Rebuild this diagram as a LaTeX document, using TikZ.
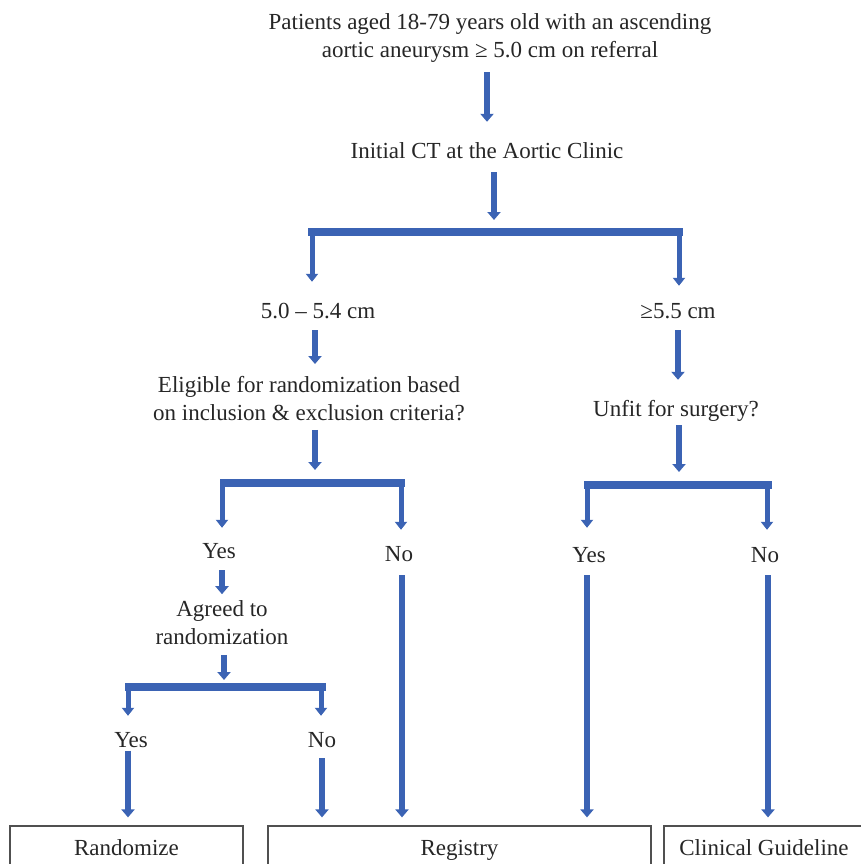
\documentclass[tikz,border=0pt]{standalone}
\usepackage{fontspec}
\setmainfont{Liberation Serif}
\usetikzlibrary{arrows.meta}
\definecolor{arrblue}{RGB}{59,99,180}
\definecolor{boxgray}{RGB}{80,80,80}
\begin{document}
\begin{tikzpicture}[x=1pt,y=-1pt,
  txt/.style={inner sep=0pt, font=\fontsize{23}{28}\selectfont, text=black!85},
  one/.style={txt, text height=18.5pt, text depth=2.5pt},
  two/.style={txt, align=center},
  arr/.style={draw=arrblue, line width=5.5pt, -{Triangle[width=13pt,length=8pt]}},
  leg/.style={draw=arrblue, line width=5pt, -{Triangle[width=12pt,length=8pt]}},
  bar/.style={draw=arrblue, line width=8pt},
  outbox/.style={draw=boxgray, line width=1.2pt, inner sep=0pt, minimum height=48pt, text height=16pt, text depth=5pt, font=\fontsize{23}{28}\selectfont, text=black!85}
]
\useasboundingbox (0,0) rectangle (861,864);
\clip (0,0) rectangle (861,864);

% text nodes
\node[two] (top) at (490,38) {Patients aged 18-79 years old with an ascending\\aortic aneurysm ≥ 5.0 cm on referral};
\node[one] (ct) at (487,150) {Initial CT at the Aortic Clinic};
\node[one] (a) at (318,310) {5.0 – 5.4 cm};
\node[one] (b) at (678,310) {≥5.5 cm};
\node[two] (elig) at (309,399) {Eligible for randomization based\\on inclusion \& exclusion criteria?};
\node[one] (unfit) at (676,408) {Unfit for surgery?};
\node[one] (y1) at (219,550) {Yes};
\node[one] (n1) at (399,553) {No};
\node[one] (y2) at (589,554) {Yes};
\node[one] (n2) at (765,554) {No};
\node[two] (agr) at (222,623) {Agreed to\\randomization};
\node[one] (y3) at (131,739) {Yes};
\node[one] (n3) at (322,739) {No};

% output boxes
\node[outbox, minimum width=233pt] (rand) at (126.5,850) {Randomize};
\node[outbox, minimum width=383pt] (reg) at (459.5,850) {Registry};
\node[outbox, minimum width=200pt] (cg) at (764,850) {Clinical Guideline};

% fork coordinates
\coordinate (f1) at (494,232);
\coordinate (f1l) at (308,232);
\coordinate (f1r) at (683,232);
\coordinate (f2) at (315,483);
\coordinate (f2l) at (220,483);
\coordinate (f2r) at (405,483);
\coordinate (f3) at (679,485);
\coordinate (f3l) at (584,485);
\coordinate (f3r) at (772,485);
\coordinate (f4) at (224,687);
\coordinate (f4l) at (125,687);
\coordinate (f4r) at (326,687);

% main arrows
\draw[arr, shorten <=9.5pt, shorten >=17.5pt] (top.south -| ct) -- (ct.north);
\draw[arr, shorten <=11.5pt, shorten >=12pt] (ct.south -| f1) -- (f1);
\draw[arr, shorten <=9.5pt, shorten >=12.5pt] (a.south -| 315,0) -- (elig.north -| 315,0);
\draw[arr, shorten <=9.5pt, shorten >=17.5pt] (b.south) -- (unfit.north -| b.south);
\draw[arr, shorten <=8.5pt, shorten >=13pt] (elig.south -| f2) -- (f2);
\draw[arr, shorten <=6.5pt, shorten >=13pt] (unfit.south -| f3) -- (f3);
\draw[arr, shorten <=9.5pt, shorten >=6.5pt] (y1.south -| agr) -- (agr.north);
\draw[arr, shorten <=9.5pt, shorten >=7pt] (agr.south -| f4) -- (f4);

% bars
\draw[bar] (f1l) -- (f1r);
\draw[bar] (f2l) -- (f2r);
\draw[bar] (f3l) -- (f3r);
\draw[bar] (f4l) -- (f4r);

% legs
\draw[leg, shorten >=17.5pt] ([xshift=4pt]f1l) -- (a.north -| 312,0);
\draw[leg, shorten >=13.5pt] ([xshift=-4pt]f1r) -- (b.north -| 679,0);
\draw[leg, shorten >=11.5pt] ([xshift=2pt]f2l) -- (y1.north -| 222,0);
\draw[leg, shorten >=12.5pt] ([xshift=-4pt]f2r) -- (n1.north -| 401,0);
\draw[leg, shorten >=15.5pt] ([xshift=3pt]f3l) -- (y2.north -| 587,0);
\draw[leg, shorten >=13.5pt] ([xshift=-5pt]f3r) -- (n2.north -| 767,0);
\draw[leg, shorten >=12.5pt] ([xshift=3pt]f4l) -- (y3.north -| 128,0);
\draw[leg, shorten >=12.5pt] ([xshift=-5pt]f4r) -- (n3.north -| 321,0);

% arrows to outcome boxes
\draw[arr, shorten <=1pt, shorten >=8pt] (y3.south -| 128,0) -- (rand.north -| 128,0);
\draw[arr, shorten <=8.5pt, shorten >=8pt] (n3.south) -- (reg.north -| n3.south);
\draw[arr, shorten <=11.5pt, shorten >=8pt] (n1.south -| 402,0) -- (reg.north -| 402,0);
\draw[arr, shorten <=10.5pt, shorten >=8pt] (y2.south -| 587,0) -- (reg.north -| 587,0);
\draw[arr, shorten <=10.5pt, shorten >=8pt] (n2.south -| 768,0) -- (cg.north -| 768,0);
\end{tikzpicture}
\end{document}
